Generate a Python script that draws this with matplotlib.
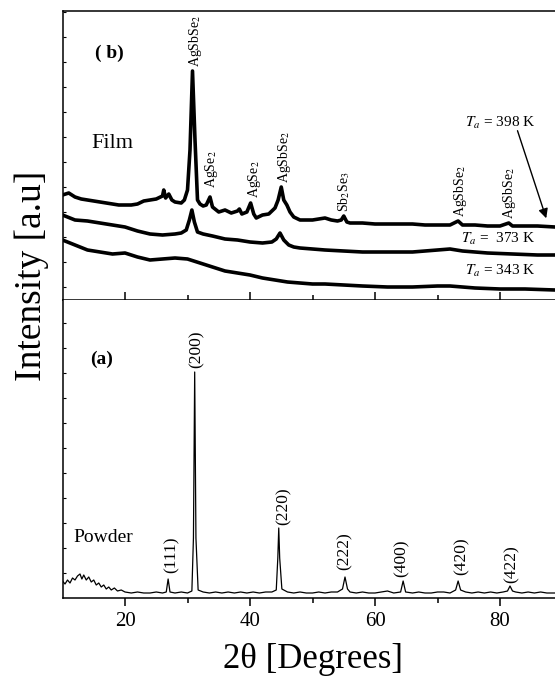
import numpy as np
import matplotlib
matplotlib.use("Agg")
import matplotlib.pyplot as plt
from matplotlib.ticker import FixedLocator, NullFormatter

plt.rcParams['font.family'] = ['Liberation Serif', 'DejaVu Serif']
plt.rcParams['mathtext.fontset'] = 'stix'

# ---- (a) powder pattern ----
powder_tt = [10.0, 10.4, 10.8, 11.2, 11.6, 12.0, 12.4, 12.8, 13.1, 13.4, 13.8, 14.2, 14.6,
             15.0, 15.4, 15.8, 16.2, 16.6, 17.0, 17.4, 17.8, 18.3, 18.8, 19.4, 20, 21, 22,
             23, 24, 25, 26, 26.6, 26.9, 27.2, 28, 29, 30, 30.7, 30.95, 31.15, 31.35, 31.7,
             32.5, 33.5, 34.5, 35.5, 36.5, 37.5, 38.5, 39.5, 40.5, 41.5, 42.5, 43.5, 44.2,
             44.45, 44.6, 44.75, 45.1, 46, 47, 48, 49, 50, 51, 52, 53, 54, 54.8, 55.2, 55.6,
             56, 57, 58, 59, 60, 61, 62, 63, 64.1, 64.5, 64.9, 66, 67, 68, 69, 70, 71, 72,
             72.9, 73.3, 73.7, 74.5, 75.5, 76.5, 77.5, 78.5, 79.5, 80.5, 81.2, 81.6, 82.0,
             82.5, 83.5, 84.5, 85.5, 86.5, 87.5, 88.8]
powder_I = [17, 14, 18, 15, 20, 18, 22, 24, 19, 23, 18, 21, 16,
            18, 13, 15, 11, 13, 9, 11, 8, 10, 7, 8, 6, 5, 6,
            5, 5, 6, 5, 6, 19, 6, 5, 6, 5, 7, 60, 226, 60, 8,
            6, 5, 6, 5, 6, 5, 6, 5, 6, 5, 6, 6, 8,
            40, 70, 40, 9, 6, 5, 6, 5, 5, 6, 5, 6, 6, 9, 21, 9,
            6, 5, 6, 5, 5, 6, 7, 5, 6, 17, 6, 5, 6, 5, 5, 6, 6, 5,
            8, 17, 8, 6, 5, 6, 5, 6, 5, 6, 7, 12, 7,
            6, 5, 6, 5, 6, 5, 5]

# ---- (b) film patterns ----
t398_tt = [10, 11, 12, 13, 14, 15, 16, 17, 18, 19, 20, 21, 22, 23, 24, 25, 26, 26.2, 26.5,
           27, 27.5, 28, 29, 29.5, 30.0, 30.4, 30.8, 31.2, 31.6, 32.0, 32.5, 33.0, 33.6,
           34.0, 35, 36, 37, 38, 38.3, 38.7, 39.5, 40.1, 40.6, 41, 42, 43, 44, 44.5, 45.0,
           45.4, 45.9, 46.4, 47, 48, 49, 50, 51, 52, 53, 54, 54.6, 55.0, 55.5, 56, 58, 60,
           62, 64, 66, 68, 70, 72, 73.3, 74, 76, 78, 80, 81.4, 82, 84, 86, 88.8]
t398_I = [105, 107, 103, 101, 100, 99, 98, 97, 96, 95, 95, 95, 96, 99, 100, 101, 104, 110, 102,
          106, 100, 98, 97, 100, 110, 150, 229, 160, 100, 96, 94, 95, 103,
          93, 88, 90, 87, 89, 91, 86, 88, 97, 86, 82, 85, 86, 92, 100, 113,
          100, 95, 88, 83, 80, 80, 80, 81, 82, 80, 79, 80, 84, 78, 77, 77, 76,
          76, 76, 76, 75, 75, 75, 79, 75, 75, 74, 74, 77, 74, 74, 74, 73]

t373_tt = [10, 12, 14, 16, 18, 20, 22, 24, 26, 28, 29, 29.8, 30.3, 30.7, 31.1, 31.6, 32.5,
           34, 36, 38, 40, 42, 43.5, 44.2, 44.8, 45.4, 46.2, 47, 48, 50, 52, 55, 58, 62,
           66, 70, 72, 74, 78, 82, 86, 88.8]
t373_I = [85, 80, 79, 77, 75, 73, 69, 66, 65, 66, 67, 70, 80, 90, 78, 68, 66,
          64, 61, 60, 58, 57, 58, 61, 67, 60, 55, 53, 52, 51, 50, 49, 48, 48,
          48, 50, 51, 49, 47, 46, 45, 45]

t343_tt = [10, 12, 14, 16, 18, 20, 22, 24, 26, 28, 30, 32, 34, 36, 38, 40, 42, 44, 46, 48,
           50, 52, 55, 58, 62, 66, 70, 72, 76, 80, 84, 88.8]
t343_I = [60, 55, 50, 48, 46, 47, 43, 40, 41, 42, 41, 37, 33, 29, 27, 25, 22, 20, 18, 17,
          16, 16, 15, 14, 13, 13, 14, 14, 12, 11, 11, 10]

# phase labels: (text, 2theta, height)
film_labels = [("AgSbSe$_2$", 31.2, 233), ("AgSe$_2$", 33.9, 112), ("AgSe$_2$", 40.7, 102),
               ("AgSbSe$_2$", 45.5, 117), ("Sb$_2$Se$_3$", 55.0, 88),
               ("AgSbSe$_2$", 73.7, 83), ("AgSbSe$_2$", 81.6, 81)]
powder_labels = [("(111)", 27.4, 25), ("(200)", 31.4, 230), ("(220)", 45.4, 73),
                 ("(222)", 55.2, 28), ("(400)", 64.3, 21), ("(420)", 73.8, 23),
                 ("(422)", 81.9, 15)]

fig = plt.figure(figsize=(5.55, 6.8), dpi=100)
left = 62.5 / 555
width = 1 - left
ax_b = fig.add_axes([left, 380 / 680, width, 289 / 680])
ax_a = fig.add_axes([left, 82 / 680, width, 298 / 680])

for ax in (ax_a, ax_b):
    ax.set_xlim(10, 88.8)
    ax.spines['right'].set_visible(False)
    for s in ax.spines.values():
        s.set_linewidth(1.1)
    ax.yaxis.set_major_locator(FixedLocator([]))
    ax.tick_params(axis='y', which='minor', direction='in', length=2.5, width=0.8,
                   left=True, right=False)
    ax.xaxis.set_major_locator(FixedLocator([20, 40, 60, 80]))
    ax.xaxis.set_minor_locator(FixedLocator([30, 50, 70]))

ax_b.set_ylim(0, 289)
ax_a.set_ylim(0, 298)
ax_b.yaxis.set_minor_locator(FixedLocator(np.arange(13, 289, 25)))
ax_a.yaxis.set_minor_locator(FixedLocator(np.arange(25, 298, 25)))
ax_b.yaxis.set_minor_formatter(NullFormatter())
ax_a.yaxis.set_minor_formatter(NullFormatter())

ax_b.tick_params(axis='x', which='major', direction='inout', length=12, width=1.1,
                 labelbottom=False, top=False)
ax_b.tick_params(axis='x', which='minor', direction='inout', length=7, width=1.1, top=False)
ax_a.spines['top'].set_visible(False)
ax_a.tick_params(axis='x', which='major', direction='out', length=6, width=1.1,
                 labelsize=15, pad=4, top=False)
ax_a.tick_params(axis='x', which='minor', direction='out', length=3.5, width=1.1, top=False)

# curves
ax_b.plot(t398_tt, t398_I, color='black', lw=2.6)
ax_b.plot(t373_tt, t373_I, color='black', lw=2.6)
ax_b.plot(t343_tt, t343_I, color='black', lw=2.6)
ax_a.plot(powder_tt, powder_I, color='black', lw=0.9)

for txt, x, y in film_labels:
    ax_b.text(x, y, txt, rotation=90, ha='center', va='bottom', fontsize=10)
for txt, x, y in powder_labels:
    ax_a.text(x, y, txt, rotation=90, ha='center', va='bottom', fontsize=12.5)

ax_b.text(85.6, 172.7, "$T_a$ = 398 K", ha='right', va='baseline', fontsize=11)
ax_b.text(85.6, 57.3, "$T_a$ =  373 K", ha='right', va='baseline', fontsize=11)
ax_b.text(85.6, 25, "$T_a$ = 343 K", ha='right', va='baseline', fontsize=11)
ax_b.annotate("", xy=(87.4, 81.7), xytext=(82.8, 169.3),
              arrowprops=dict(arrowstyle='-|>', color='black', lw=1.0,
                              mutation_scale=14, shrinkA=0, shrinkB=0))

ax_b.text(15.2, 242, "( b)", fontsize=14, fontweight='bold', va='baseline')
ax_b.text(14.7, 152, "Film", fontsize=16, va='baseline')
ax_a.text(14.4, 234, "(a)", fontsize=14, fontweight='bold', va='baseline')
ax_a.text(11.7, 56, "Powder", fontsize=14, va='baseline')

fig.text(32 / 555, 1 - 276 / 680, "Intensity [a.u]", rotation=90, ha='center',
         va='center', fontsize=27)
fig.text(313 / 555, 12 / 680, "2θ [Degrees]", ha='center', va='baseline', fontsize=25)

fig.savefig("out.png", dpi=100)
